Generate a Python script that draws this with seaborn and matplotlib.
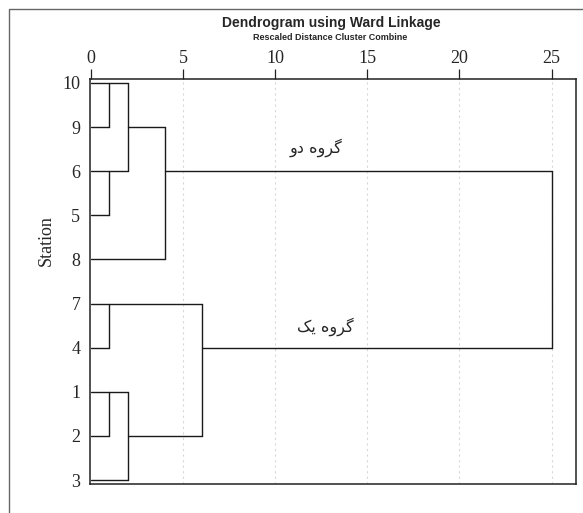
import pandas as pd
import seaborn as sns
import matplotlib.pyplot as plt
from matplotlib.lines import Line2D

# leaf order from top to bottom
stations = ['10', '9', '6', '5', '8', '7', '4', '1', '2', '3']
dist_ticks = [0, 5, 10, 15, 20, 25]

# horizontal links: (leaf row, from distance, to distance)
h_links = [(0, 0, 2), (1, 0, 1), (1, 2, 4), (2, 0, 2), (2, 4, 25),
           (3, 0, 1), (4, 0, 4), (5, 0, 6), (6, 0, 1), (6, 6, 25),
           (7, 0, 2), (8, 0, 1), (8, 2, 6), (9, 0, 2)]
# vertical links: (distance, from row, to row)
v_links = [(1, 0, 1), (2, 0, 2), (1, 2, 3), (4, 1, 4), (25, 2, 6),
           (1, 5, 6), (6, 5, 8), (1, 7, 8), (2, 7, 9)]

group_two = '\uFEED\uFEA9 \uFEE9\uFEED\uFEAE\uFB94'   # گروه دو
group_one = '\uFB8F\uFBFE \uFEE9\uFEED\uFEAE\uFB94'   # گروه یک

rows = []
seg = 0
for y, x0, x1 in h_links:
    rows.append({'seg': seg, 'dist': x0, 'row': y})
    rows.append({'seg': seg, 'dist': x1, 'row': y})
    seg += 1
for x, y0, y1 in v_links:
    rows.append({'seg': seg, 'dist': x, 'row': y0})
    rows.append({'seg': seg, 'dist': x, 'row': y1})
    seg += 1
df = pd.DataFrame(rows)

sns.set_style('white')
fig = plt.figure(figsize=(5.83, 5.13), dpi=100)
ax = fig.add_axes([0.1544, 0.0565, 0.8329, 0.7895])

for t in dist_ticks[1:]:
    ax.axvline(t, color='#d8d8d8', lw=0.8, ls=(0, (2, 3)), zorder=0)

sns.lineplot(data=df, x='dist', y='row', units='seg', estimator=None,
             sort=False, color='#1a1a1a', lw=1.0, ax=ax)

ax.set_xlim(-0.05, 26.3)
ax.set_ylim(9.09, -0.09)
ax.xaxis.tick_top()
ax.set_xticks(dist_ticks)
ax.set_xticklabels([str(t) for t in dist_ticks], family='Liberation Serif', fontsize=13)
ax.tick_params(axis='x', direction='out', length=7, width=0.9, color='#222222', pad=2)
ax.set_yticks(range(len(stations)))
ax.set_yticklabels(stations, family='Liberation Serif', fontsize=13)
ax.tick_params(axis='y', length=0, pad=7)
ax.set_xlabel('')
ax.set_ylabel('')
for s in ax.spines.values():
    s.set_color('#222222')
    s.set_linewidth(1.1)

ax.text(12.2, 1.47, group_two, family='DejaVu Sans', fontsize=11.5, ha='center', va='center')
ax.text(12.7, 5.53, group_one, family='DejaVu Sans', fontsize=11.5, ha='center', va='center')

fig.text(0.079, 0.532, 'Station', rotation=90, family='Liberation Serif',
         fontsize=13, ha='center', va='center')
fig.text(0.568, 0.955, 'Dendrogram using Ward Linkage', family='Liberation Sans',
         fontweight='bold', fontsize=10, ha='center', va='center')
fig.text(0.566, 0.926, 'Rescaled Distance Cluster Combine', family='Liberation Sans',
         fontweight='bold', fontsize=6.5, ha='center', va='center')

# outer frame
fig.add_artist(Line2D([0.0155, 0.0155, 1.0], [0.0, 0.9825, 0.9825],
                      transform=fig.transFigure, color='#666666', lw=1))

fig.savefig('out.png', dpi=100)
